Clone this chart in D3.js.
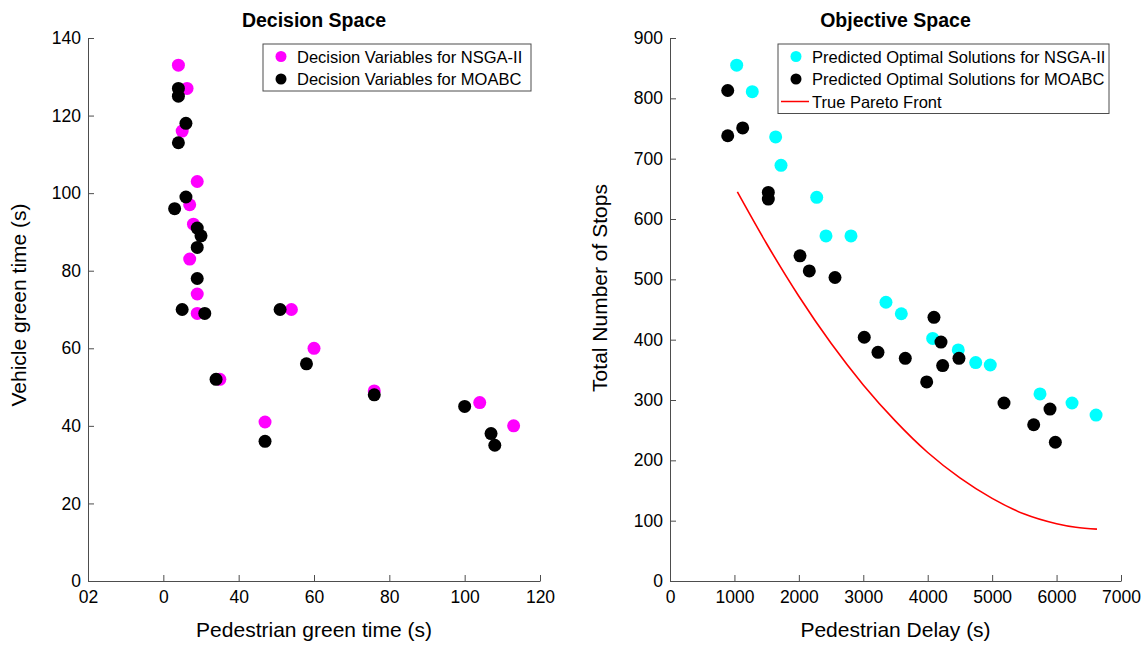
<!DOCTYPE html>
<html lang="en">
<head>
  <meta charset="UTF-8">
  <title>Decision Space / Objective Space</title>
  <script src="https://d3js.org/d3.v7.min.js"></script>
  <style>
    body { margin: 0; background: #fff; font-family: "Liberation Sans", Arial, sans-serif; }
    .tick text { font-size: 17.5px; fill: #000; font-family: "Liberation Sans", Arial, sans-serif; }
    .axis path, .axis line { stroke: #4d4d4d; }
  </style>
</head>
<body>
<div id="chart"></div>
<script>
  // Decision space data (pedestrian green, vehicle green)
  const nsgaPedGreen = [24, 26.3, 25, 29, 27, 28, 27, 29, 29, 35, 54, 60, 76, 47, 104, 113];
  const nsgaVehGreen = [133, 127, 116, 103, 97, 92, 83, 74, 69, 52, 70, 60, 49, 41, 46, 40];
  const moabcPedGreen = [24, 24, 26, 24, 26, 23, 29, 30, 29, 29, 25, 31, 51, 58, 34, 76, 47, 100, 107, 108];
  const moabcVehGreen = [127, 125, 118, 113, 99, 96, 91, 89, 86, 78, 70, 69, 70, 56, 52, 48, 36, 45, 38, 35];

  // Objective space data (pedestrian delay, total stops)
  const nsgaDelay = [1035, 1277, 1640, 1723, 2277, 2421, 2809, 3352, 3590, 4077, 4474, 4745, 4971, 5743, 6240, 6613];
  const nsgaStops = [855, 811, 736, 689, 636, 572, 572, 462, 443, 402, 383, 362, 358, 310, 295, 275];
  const moabcDelay = [896, 896, 1128, 1526, 1526, 2018, 2162, 2561, 3015, 3228, 3652, 3984, 4097, 4206, 4232, 4485, 5184, 5645, 5898, 5981];
  const moabcStops = [813, 738, 751, 644, 633, 539, 514, 503, 404, 379, 369, 330, 437, 396, 357, 369, 295, 259, 285, 230];

  // True Pareto front
  const paretoDelay = [1045, 1500, 2000, 2500, 3000, 3500, 4000, 4500, 5000, 5500, 6000, 6300, 6627];
  const paretoStops = [645, 559, 472, 394, 325, 265, 213, 171, 137, 111, 95, 89, 86];

  // Ticks
  const leftXTicks = [0, 20, 40, 60, 80, 100, 120];
  const leftXTickLabels = ["02", "0", "40", "60", "80", "100", "120"];
  const leftYTicks = [0, 20, 40, 60, 80, 100, 120, 140];
  const rightXTicks = [0, 1000, 2000, 3000, 4000, 5000, 6000, 7000];
  const rightYTicks = [0, 100, 200, 300, 400, 500, 600, 700, 800, 900];

  const width = 1142, height = 655;
  const plotTop = 38, plotBottom = 581, r = 6.5;

  const svg = d3.select("#chart").append("svg")
    .attr("width", width)
    .attr("height", height);

  function drawPanel(opts) {
    const x = d3.scaleLinear().domain(opts.xDomain).range([opts.left, opts.right]);
    const y = d3.scaleLinear().domain(opts.yDomain).range([plotBottom, plotTop]);

    const xAxis = d3.axisBottom(x).tickValues(opts.xTicks)
      .tickSizeInner(-6).tickSizeOuter(0).tickPadding(10);
    if (opts.xLabels) xAxis.tickFormat((d, i) => opts.xLabels[i]);
    else xAxis.tickFormat(d3.format("d"));

    const yAxis = d3.axisLeft(y).tickValues(opts.yTicks)
      .tickSizeInner(-6).tickSizeOuter(0).tickPadding(7).tickFormat(d3.format("d"));

    svg.append("g").attr("class", "axis")
      .attr("transform", `translate(0, ${plotBottom})`)
      .call(xAxis);
    svg.append("g").attr("class", "axis")
      .attr("transform", `translate(${opts.left}, 0)`)
      .call(yAxis);

    // Title
    const cx = (opts.left + opts.right) / 2;
    svg.append("text")
      .attr("x", cx).attr("y", 27)
      .attr("text-anchor", "middle")
      .style("font-size", "19.5px").style("font-weight", "bold")
      .text(opts.title);

    // Axis labels
    svg.append("text")
      .attr("x", cx).attr("y", 637)
      .attr("text-anchor", "middle")
      .style("font-size", "21px")
      .text(opts.xTitle);
    svg.append("text")
      .attr("transform", `translate(${opts.yTitleX}, ${opts.yTitleY}) rotate(-90)`)
      .attr("text-anchor", "middle")
      .style("font-size", "21px")
      .text(opts.yTitle);

    return { x, y };
  }

  function drawLegend(x0, y0, w, items) {
    const g = svg.append("g");
    const rowH = 22.5;
    g.append("rect")
      .attr("x", x0).attr("y", y0)
      .attr("width", w).attr("height", items.length * rowH + 2)
      .attr("fill", "#fff").attr("stroke", "#4d4d4d").attr("stroke-width", 1);
    items.forEach((it, i) => {
      const cy = y0 + 12.5 + i * rowH;
      if (it.type === "dot") {
        g.append("circle").attr("cx", x0 + 18).attr("cy", cy).attr("r", 5.5).attr("fill", it.color);
      } else {
        g.append("line").attr("x1", x0 + 3).attr("x2", x0 + 31)
          .attr("y1", cy).attr("y2", cy)
          .attr("stroke", it.color).attr("stroke-width", 1.5);
      }
      g.append("text")
        .attr("x", x0 + 34).attr("y", cy + 6)
        .style("font-size", "16.5px")
        .text(it.label);
    });
  }

  // Left panel: Decision Space
  const L = drawPanel({
    left: 88, right: 540,
    xDomain: [0, 120], yDomain: [0, 140],
    xTicks: leftXTicks, xLabels: leftXTickLabels, yTicks: leftYTicks,
    title: "Decision Space",
    xTitle: "Pedestrian green time (s)",
    yTitle: "Vehicle green time (s)", yTitleX: 26, yTitleY: 305
  });

  svg.append("g").selectAll("circle")
    .data(nsgaPedGreen.map((d, i) => [d, nsgaVehGreen[i]]))
    .join("circle")
    .attr("cx", d => L.x(d[0])).attr("cy", d => L.y(d[1]))
    .attr("r", r).attr("fill", "#ff00ff");

  svg.append("g").selectAll("circle")
    .data(moabcPedGreen.map((d, i) => [d, moabcVehGreen[i]]))
    .join("circle")
    .attr("cx", d => L.x(d[0])).attr("cy", d => L.y(d[1]))
    .attr("r", r).attr("fill", "#000");

  drawLegend(263, 44, 268, [
    { type: "dot", color: "#ff00ff", label: "Decision Variables for NSGA-II" },
    { type: "dot", color: "#000", label: "Decision Variables for MOABC" }
  ]);

  // Right panel: Objective Space
  const R = drawPanel({
    left: 670, right: 1121,
    xDomain: [0, 7000], yDomain: [0, 900],
    xTicks: rightXTicks, yTicks: rightYTicks,
    title: "Objective Space",
    xTitle: "Pedestrian Delay (s)",
    yTitle: "Total Number of Stops", yTitleX: 607, yTitleY: 288
  });

  svg.append("g").selectAll("circle")
    .data(nsgaDelay.map((d, i) => [d, nsgaStops[i]]))
    .join("circle")
    .attr("cx", d => R.x(d[0])).attr("cy", d => R.y(d[1]))
    .attr("r", r).attr("fill", "#00ffff");

  svg.append("g").selectAll("circle")
    .data(moabcDelay.map((d, i) => [d, moabcStops[i]]))
    .join("circle")
    .attr("cx", d => R.x(d[0])).attr("cy", d => R.y(d[1]))
    .attr("r", r).attr("fill", "#000");

  const line = d3.line()
    .x(d => R.x(d[0])).y(d => R.y(d[1]))
    .curve(d3.curveMonotoneX);
  svg.append("path")
    .datum(paretoDelay.map((d, i) => [d, paretoStops[i]]))
    .attr("d", line)
    .attr("fill", "none").attr("stroke", "#ff0000").attr("stroke-width", 1.6);

  drawLegend(778, 44, 331, [
    { type: "dot", color: "#00ffff", label: "Predicted Optimal Solutions for NSGA-II" },
    { type: "dot", color: "#000", label: "Predicted Optimal Solutions for MOABC" },
    { type: "line", color: "#ff0000", label: "True Pareto Front" }
  ]);
</script>
</body>
</html>
